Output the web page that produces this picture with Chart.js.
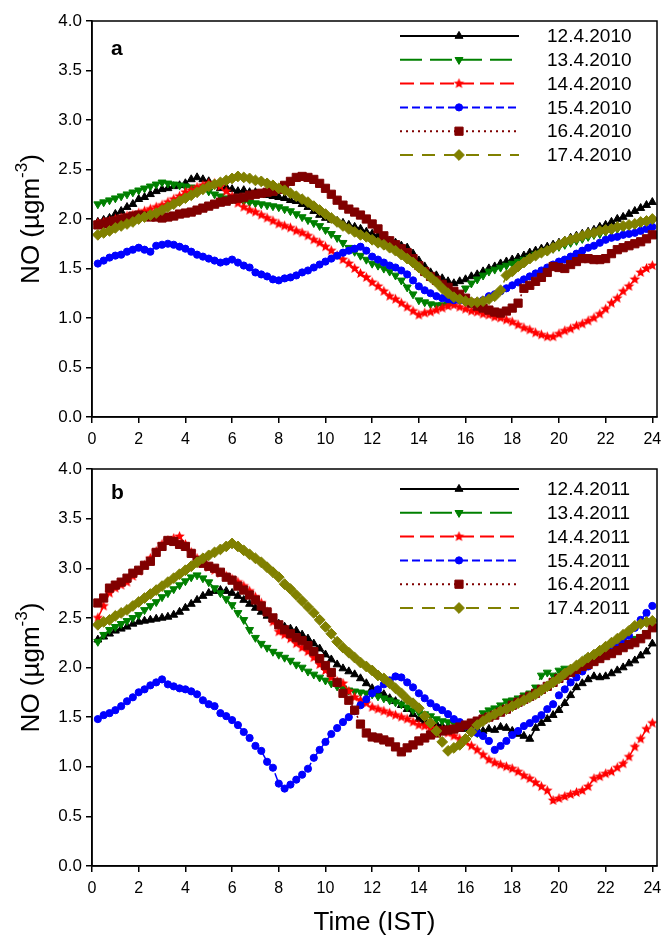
<!DOCTYPE html>
<html>
<head>
<meta charset="utf-8">
<script src="https://cdn.jsdelivr.net/npm/chart.js@4.4.1/dist/chart.umd.min.js"></script>
<style>
  body { margin: 0; background: #fff; width: 664px; height: 938px; position: relative; overflow: hidden; }
  canvas { position: absolute; left: 0; }
  #chartA { top: 0; }
  #chartB { top: 448px; }
</style>
</head>
<body>
<canvas id="chartA" width="664" height="460"></canvas>
<canvas id="chartB" width="664" height="490"></canvas>
<script>
// time of day (IST), 15 min steps
const hours = [
  0.25,0.5,0.75,1,1.25,1.5,1.75,2, 2.25,2.5,2.75,3,3.25,3.5,3.75,4,
  4.25,4.5,4.75,5,5.25,5.5,5.75,6, 6.25,6.5,6.75,7,7.25,7.5,7.75,8,
  8.25,8.5,8.75,9,9.25,9.5,9.75,10, 10.25,10.5,10.75,11,11.25,11.5,11.75,12,
  12.25,12.5,12.75,13,13.25,13.5,13.75,14, 14.25,14.5,14.75,15,15.25,15.5,15.75,16,
  16.25,16.5,16.75,17,17.25,17.5,17.75,18, 18.25,18.5,18.75,19,19.25,19.5,19.75,20,
  20.25,20.5,20.75,21,21.25,21.5,21.75,22, 22.25,22.5,22.75,23,23.25,23.5,23.75,24
];
const xTicks = [0, 2, 4, 6, 8, 10, 12, 14, 16, 18, 20, 22, 24];
const yTicks = [0, 0.5, 1, 1.5, 2, 2.5, 3, 3.5, 4];

const dates2010 = ['12.4.2010', '13.4.2010', '14.4.2010', '15.4.2010', '16.4.2010', '17.4.2010'];
const dates2011 = ['12.4.2011', '13.4.2011', '14.4.2011', '15.4.2011', '16.4.2011', '17.4.2011'];

// panel a - 2010
const apr12_2010 = [
  1.97,1.99,2.01,2.05,2.08,2.12,2.15,2.20, 2.22,2.25,2.28,2.30,2.31,2.33,2.34,2.36,
  2.40,2.42,2.40,2.38,2.34,2.31,2.32,2.30, 2.28,2.29,2.27,2.27,2.25,2.24,2.23,2.22,
  2.21,2.19,2.18,2.15,2.12,2.08,2.04,2.01, 1.99,1.98,1.96,1.94,1.92,1.90,1.87,1.85,
  1.83,1.80,1.78,1.76,1.73,1.71,1.65,1.58, 1.52,1.46,1.43,1.40,1.37,1.35,1.37,1.39,
  1.42,1.44,1.47,1.50,1.52,1.55,1.57,1.59, 1.61,1.63,1.66,1.68,1.70,1.72,1.74,1.76,
  1.78,1.81,1.83,1.85,1.87,1.89,1.92,1.94, 1.97,2.00,2.02,2.05,2.08,2.11,2.14,2.17
];
const apr13_2010 = [
  2.15,2.17,2.19,2.21,2.23,2.25,2.27,2.29, 2.31,2.33,2.35,2.37,2.36,2.35,2.34,2.33,
  2.32,2.31,2.30,2.28,2.25,2.23,2.21,2.20, 2.19,2.18,2.17,2.16,2.15,2.14,2.13,2.12,
  2.10,2.08,2.05,2.02,1.99,1.96,1.93,1.89, 1.85,1.81,1.76,1.71,1.67,1.63,1.59,1.55,
  1.53,1.50,1.47,1.43,1.38,1.31,1.24,1.18, 1.16,1.14,1.13,1.13,1.14,1.16,1.22,1.30,
  1.35,1.39,1.43,1.47,1.49,1.51,1.53,1.55, 1.57,1.59,1.61,1.64,1.66,1.68,1.70,1.72,
  1.74,1.76,1.78,1.80,1.82,1.84,1.85,1.87, 1.88,1.90,1.91,1.93,1.94,1.95,1.97,1.98
];
const apr14_2010 = [
  1.96,1.97,1.98,2.00,2.01,2.03,2.04,2.06, 2.08,2.10,2.12,2.14,2.17,2.20,2.23,2.27,
  2.29,2.32,2.34,2.36,2.36,2.33,2.28,2.23, 2.16,2.12,2.09,2.07,2.04,2.01,1.98,1.95,
  1.93,1.91,1.88,1.86,1.83,1.79,1.76,1.72, 1.68,1.63,1.59,1.55,1.50,1.45,1.41,1.36,
  1.32,1.27,1.22,1.19,1.15,1.11,1.07,1.03, 1.05,1.06,1.08,1.10,1.12,1.13,1.11,1.09,
  1.07,1.06,1.04,1.03,1.01,1.00,0.98,0.96, 0.93,0.90,0.88,0.85,0.83,0.81,0.81,0.84,
  0.87,0.89,0.92,0.94,0.97,1.00,1.04,1.09, 1.15,1.20,1.27,1.32,1.39,1.46,1.50,1.53
];
const apr15_2010 = [
  1.55,1.58,1.61,1.63,1.64,1.67,1.69,1.71, 1.69,1.67,1.73,1.74,1.75,1.74,1.72,1.70,
  1.67,1.64,1.62,1.60,1.58,1.56,1.57,1.59, 1.56,1.53,1.51,1.46,1.44,1.42,1.39,1.38,
  1.40,1.41,1.43,1.46,1.48,1.51,1.54,1.57, 1.60,1.63,1.66,1.68,1.70,1.72,1.68,1.62,
  1.59,1.56,1.53,1.51,1.48,1.44,1.38,1.32, 1.28,1.25,1.22,1.20,1.19,1.18,1.18,1.17,
  1.15,1.16,1.18,1.22,1.24,1.27,1.30,1.33, 1.36,1.39,1.42,1.45,1.48,1.51,1.54,1.57,
  1.59,1.62,1.65,1.68,1.71,1.73,1.76,1.79, 1.81,1.82,1.84,1.85,1.86,1.88,1.90,1.92
];
const apr16_2010 = [
  1.94,1.95,1.97,1.98,2.00,2.01,2.03,2.04, 2.03,2.02,2.02,2.01,2.02,2.03,2.05,2.06,
  2.07,2.09,2.11,2.13,2.15,2.17,2.18,2.20, 2.21,2.22,2.24,2.25,2.26,2.27,2.28,2.30,
  2.34,2.38,2.42,2.43,2.42,2.40,2.36,2.31, 2.25,2.19,2.14,2.10,2.07,2.04,2.00,1.95,
  1.90,1.83,1.78,1.74,1.70,1.66,1.60,1.53, 1.47,1.42,1.38,1.34,1.31,1.27,1.24,1.20,
  1.15,1.12,1.10,1.08,1.06,1.05,1.07,1.10, 1.15,1.30,1.33,1.37,1.41,1.46,1.52,1.51,
  1.50,1.54,1.57,1.60,1.60,1.59,1.59,1.60, 1.65,1.69,1.71,1.73,1.75,1.77,1.80,1.84
];
const apr17_2010 = [
  1.84,1.86,1.88,1.91,1.93,1.95,1.97,2.00, 2.02,2.04,2.06,2.09,2.12,2.15,2.18,2.21,
  2.24,2.27,2.30,2.33,2.35,2.37,2.39,2.41, 2.43,2.42,2.41,2.39,2.38,2.36,2.34,2.31,
  2.29,2.26,2.23,2.20,2.17,2.13,2.09,2.05, 2.01,1.97,1.93,1.90,1.87,1.84,1.82,1.79,
  1.76,1.74,1.71,1.68,1.64,1.60,1.56,1.51, 1.46,1.41,1.36,1.30,1.25,1.21,1.19,1.17,
  1.16,1.16,1.17,1.19,1.22,1.28,1.43,1.47, 1.52,1.56,1.60,1.63,1.66,1.68,1.71,1.74,
  1.77,1.79,1.81,1.83,1.85,1.86,1.88,1.89, 1.90,1.92,1.93,1.94,1.95,1.97,1.98,2.00
];

// panel b - 2011
const apr12_2011 = [
  2.28,2.31,2.34,2.37,2.39,2.41,2.44,2.46, 2.47,2.48,2.49,2.50,2.51,2.53,2.56,2.60,
  2.64,2.68,2.72,2.75,2.77,2.78,2.77,2.75, 2.72,2.68,2.64,2.60,2.56,2.52,2.48,2.44,
  2.41,2.39,2.37,2.33,2.29,2.24,2.19,2.13, 2.08,2.03,1.99,1.96,1.93,1.89,1.84,1.79,
  1.76,1.73,1.69,1.66,1.62,1.58,1.53,1.48, 1.45,1.44,1.43,1.41,1.40,1.39,1.38,1.38,
  1.37,1.37,1.36,1.38,1.37,1.40,1.39,1.36, 1.33,1.31,1.28,1.39,1.44,1.48,1.52,1.57,
  1.64,1.72,1.80,1.84,1.88,1.91,1.90,1.91, 1.94,1.97,2.00,2.04,2.07,2.12,2.16,2.24
];
const apr13_2011 = [
  2.26,2.33,2.38,2.41,2.44,2.47,2.50,2.53, 2.58,2.62,2.66,2.71,2.75,2.79,2.83,2.87,
  2.91,2.93,2.90,2.86,2.80,2.75,2.69,2.63, 2.55,2.48,2.38,2.30,2.24,2.20,2.16,2.13,
  2.10,2.07,2.03,2.00,1.96,1.93,1.90,1.87, 1.84,1.81,1.79,1.77,1.76,1.75,1.74,1.73,
  1.71,1.69,1.67,1.65,1.63,1.60,1.57,1.55, 1.53,1.51,1.48,1.46,1.45,1.44,1.43,1.41,
  1.36,1.34,1.54,1.57,1.59,1.62,1.66,1.67, 1.69,1.72,1.74,1.80,1.92,1.95,1.92,1.97,
  1.99,1.98,2.00,2.05,2.10,2.11,2.12,2.14, 2.17,2.19,2.22,2.25,2.29,2.31,2.35,2.41
];
const apr14_2011 = [
  2.50,2.62,2.75,2.80,2.83,2.86,2.92,2.97, 3.03,3.10,3.17,3.24,3.28,3.30,3.32,3.24,
  3.16,3.10,3.05,3.01,2.98,2.95,2.92,2.89, 2.86,2.82,2.77,2.71,2.65,2.56,2.46,2.36,
  2.33,2.29,2.24,2.20,2.16,2.10,2.03,1.97, 1.90,1.86,1.84,1.76,1.70,1.67,1.64,1.60,
  1.58,1.56,1.54,1.52,1.50,1.48,1.45,1.42, 1.41,1.39,1.38,1.37,1.34,1.31,1.28,1.25,
  1.21,1.17,1.12,1.07,1.04,1.02,1.00,0.98, 0.95,0.91,0.88,0.84,0.80,0.76,0.66,0.68,
  0.70,0.72,0.74,0.76,0.80,0.88,0.90,0.93, 0.95,0.99,1.03,1.10,1.20,1.28,1.38,1.44
];
const apr15_2011 = [
  1.48,1.52,1.54,1.57,1.61,1.66,1.70,1.75, 1.78,1.82,1.85,1.88,1.83,1.81,1.79,1.78,
  1.76,1.73,1.67,1.63,1.61,1.54,1.51,1.47, 1.42,1.35,1.29,1.21,1.16,1.05,0.99,0.83,
  0.78,0.82,0.87,0.92,0.98,1.09,1.17,1.25, 1.33,1.39,1.45,1.50,1.56,1.62,1.68,1.74,
  1.78,1.83,1.87,1.91,1.90,1.85,1.80,1.74, 1.69,1.64,1.60,1.57,1.53,1.48,1.45,1.41,
  1.38,1.34,1.31,1.26,1.17,1.21,1.26,1.32, 1.36,1.41,1.44,1.48,1.52,1.58,1.63,1.72,
  1.78,1.85,1.90,1.96,2.01,2.06,2.10,2.15, 2.19,2.23,2.27,2.32,2.40,2.48,2.55,2.62
];
const apr16_2011 = [
  2.65,2.70,2.80,2.83,2.86,2.90,2.95,2.98, 3.03,3.07,3.16,3.22,3.28,3.27,3.24,3.22,
  3.15,3.08,3.05,3.02,3.00,2.96,2.91,2.88, 2.82,2.78,2.73,2.68,2.62,2.56,2.50,2.43,
  2.38,2.34,2.30,2.27,2.22,2.16,2.09,2.02, 1.95,1.85,1.74,1.67,1.57,1.43,1.34,1.30,
  1.29,1.27,1.25,1.20,1.15,1.19,1.22,1.26, 1.29,1.32,1.34,1.36,1.37,1.38,1.40,1.42,
  1.44,1.46,1.48,1.50,1.52,1.55,1.58,1.62, 1.65,1.68,1.71,1.74,1.78,1.81,1.85,1.89,
  1.92,1.95,1.98,2.01,2.03,2.06,2.09,2.12, 2.14,2.17,2.20,2.23,2.25,2.29,2.33,2.40
];
const apr17_2011 = [
  2.43,2.46,2.48,2.52,2.55,2.58,2.62,2.66, 2.70,2.74,2.78,2.82,2.86,2.90,2.94,2.98,
  3.02,3.06,3.10,3.13,3.16,3.19,3.22,3.25, 3.22,3.18,3.14,3.10,3.06,3.01,2.96,2.91,
  2.84,2.79,2.73,2.67,2.61,2.55,2.48,2.41, 2.34,2.26,2.20,2.15,2.10,2.05,2.01,1.97,
  1.92,1.89,1.84,1.79,1.74,1.68,1.64,1.59, 1.51,1.44,1.36,1.25,1.16,1.19,1.22,1.28,
  1.35,1.42,1.46,1.50,1.53,1.56,1.58,1.61, 1.64,1.67,1.70,1.73,1.77,1.81,1.85,1.89,
  1.94,1.98,2.02,2.06,2.10,2.13,2.17,2.21, 2.25,2.29,2.33,2.37,2.42,2.44,2.46,2.47
];

const series2010 = [apr12_2010, apr13_2010, apr14_2010, apr15_2010, apr16_2010, apr17_2010];
const series2011 = [apr12_2011, apr13_2011, apr14_2011, apr15_2011, apr16_2011, apr17_2011];

const FONT = 'Arial, "Liberation Sans", sans-serif';

// filled 5 point star, used as point style for the 14.4 series
const makeStar = (color, r) => {
  const c = document.createElement('canvas');
  const s = Math.ceil(r * 2) + 2;
  c.width = s;
  c.height = s;
  const g = c.getContext('2d');
  g.fillStyle = color;
  g.beginPath();
  for (let i = 0; i < 10; i++) {
    const rad = i % 2 === 0 ? r : r * 0.45;
    const a = -Math.PI / 2 + i * Math.PI / 5;
    g.lineTo(s / 2 + rad * Math.cos(a), s / 2 + rad * Math.sin(a));
  }
  g.closePath();
  g.fill();
  return c;
};
const redStar = makeStar('#ff0000', 5.5);

const looks = [
  { color: '#000000', dash: [], point: 'triangle', rotation: 0, radius: 4.6, order: 6 },
  { color: '#008000', dash: [22, 8], point: 'triangle', rotation: 180, radius: 4.6, order: 5 },
  { color: '#ff0000', dash: [14, 6], point: redStar, rotation: 0, radius: 5, order: 4 },
  { color: '#0000ff', dash: [8, 4], point: 'circle', rotation: 0, radius: 3.6, order: 3 },
  { color: '#800000', dash: [2, 4], point: 'rect', rotation: 0, radius: 5.8, order: 2 },
  { color: '#808000', dash: [13, 9], point: 'rectRot', rotation: 0, radius: 5.4, order: 1 },
];

const drawMarker = (ctx, ds, x, y) => {
  const r = ds.pointRadius;
  const style = ds.pointStyle;
  if (typeof style !== 'string') {
    ctx.drawImage(style, x - style.width / 2, y - style.height / 2);
    return;
  }
  ctx.fillStyle = ds.borderColor;
  ctx.strokeStyle = ds.borderColor;
  ctx.lineWidth = 1;
  ctx.setLineDash([]);
  ctx.beginPath();
  if (style === 'circle') {
    ctx.arc(x, y, r, 0, Math.PI * 2);
  } else if (style === 'triangle') {
    let a = (ds.pointRotation || 0) * Math.PI / 180;
    for (let k = 0; k < 3; k++) {
      ctx.lineTo(x + Math.sin(a) * r, y - Math.cos(a) * r);
      a += 2 * Math.PI / 3;
    }
  } else if (style === 'rect') {
    const s = r * Math.SQRT1_2;
    ctx.rect(x - s, y - s, 2 * s, 2 * s);
  } else {
    ctx.moveTo(x - r, y);
    ctx.lineTo(x, y - r);
    ctx.lineTo(x + r, y);
    ctx.lineTo(x, y + r);
  }
  ctx.closePath();
  ctx.fill();
  ctx.stroke();
};

const decoPlugin = {
  id: 'panelDeco',
  afterDraw(chart, args, opts) {
    const { ctx, chartArea: area } = chart;
    ctx.save();
    // box round the plot
    ctx.strokeStyle = '#000';
    ctx.lineWidth = 1.5;
    ctx.setLineDash([]);
    ctx.strokeRect(area.left, area.top, area.right - area.left, area.bottom - area.top);

    // panel letter
    ctx.fillStyle = '#000';
    ctx.font = 'bold 21px ' + FONT;
    ctx.textAlign = 'left';
    ctx.textBaseline = 'middle';
    ctx.fillText(opts.letter, 111, opts.letterY);

    // y title with superscript
    const main = 'NO (\u00b5gm';
    const sup = '-3';
    ctx.save();
    ctx.translate(32, (area.top + area.bottom) / 2);
    ctx.rotate(-Math.PI / 2);
    ctx.font = '26px ' + FONT;
    const w1 = ctx.measureText(main).width;
    const w3 = ctx.measureText(')').width;
    ctx.font = '17px ' + FONT;
    const w2 = ctx.measureText(sup).width;
    const x0 = -(w1 + w2 + w3) / 2;
    ctx.textAlign = 'left';
    ctx.textBaseline = 'middle';
    ctx.font = '26px ' + FONT;
    ctx.fillText(main, x0, 0);
    ctx.font = '17px ' + FONT;
    ctx.fillText(sup, x0 + w1, -10);
    ctx.font = '26px ' + FONT;
    ctx.fillText(')', x0 + w1 + w2, 0);
    ctx.restore();

    // x title
    if (opts.xTitle) {
      ctx.font = '26px ' + FONT;
      ctx.textAlign = 'center';
      ctx.textBaseline = 'middle';
      ctx.fillText(opts.xTitle, (area.left + area.right) / 2, opts.xTitleY);
    }

    // legend
    chart.data.datasets.forEach((ds, i) => {
      const y = opts.legendTop + i * 23.8;
      ctx.strokeStyle = ds.borderColor;
      ctx.lineWidth = 2;
      ctx.setLineDash(ds.borderDash);
      ctx.beginPath();
      ctx.moveTo(400, y);
      ctx.lineTo(519, y);
      ctx.stroke();
      drawMarker(ctx, ds, 459, y);
      ctx.fillStyle = '#000';
      ctx.font = '19px ' + FONT;
      ctx.textAlign = 'left';
      ctx.textBaseline = 'middle';
      ctx.fillText(ds.label, 547, y + 1);
    });
    ctx.restore();
  }
};

const makeDatasets = (series, names) => series.map((values, i) => ({
  label: names[i],
  data: hours.map((h, k) => ({ x: h, y: values[k] })),
  borderColor: looks[i].color,
  backgroundColor: looks[i].color,
  borderWidth: 1.5,
  borderDash: looks[i].dash,
  pointStyle: looks[i].point,
  pointRotation: looks[i].rotation,
  pointRadius: looks[i].radius,
  pointBackgroundColor: looks[i].color,
  pointBorderColor: looks[i].color,
  pointBorderWidth: 1,
  order: looks[i].order,
  tension: 0,
  fill: false,
}));

const axisGrid = { display: true, drawOnChartArea: false, drawTicks: true, tickLength: 6, color: '#000', lineWidth: 1.5 };
const axisBorder = { display: true, color: '#000', width: 1.5 };

const makeOptions = (deco, xAxisHeight) => ({
  responsive: false,
  animation: false,
  devicePixelRatio: 1,
  layout: { padding: { left: 0, top: 21, right: 7, bottom: 0 } },
  plugins: { legend: { display: false }, tooltip: { enabled: false }, panelDeco: deco },
  scales: {
    x: {
      type: 'linear',
      min: 0,
      max: 24.2,
      afterBuildTicks: s => { s.ticks = xTicks.map(v => ({ value: v })); },
      afterFit: s => {
        s.height = xAxisHeight;
        s.paddingLeft = 0;
        s.paddingRight = 0;
      },
      ticks: { font: { size: 16, family: FONT }, color: '#000', padding: 7, maxRotation: 0 },
      grid: axisGrid,
      border: axisBorder,
    },
    y: {
      type: 'linear',
      min: 0,
      max: 4,
      afterBuildTicks: s => { s.ticks = yTicks.map(v => ({ value: v })); },
      afterFit: s => {
        s.width = 92;
        s.paddingTop = 0;
        s.paddingBottom = 0;
      },
      ticks: { font: { size: 17, family: FONT }, color: '#000', padding: 4, callback: v => v.toFixed(1) },
      grid: axisGrid,
      border: axisBorder,
    }
  }
});

new Chart(document.getElementById('chartA'), {
  type: 'line',
  data: { datasets: makeDatasets(series2010, dates2010) },
  options: makeOptions({ letter: 'a', letterY: 49, legendTop: 36 }, 43),
  plugins: [decoPlugin]
});

new Chart(document.getElementById('chartB'), {
  type: 'line',
  data: { datasets: makeDatasets(series2011, dates2011) },
  options: makeOptions({ letter: 'b', letterY: 45, legendTop: 41, xTitle: 'Time (IST)', xTitleY: 475 }, 72),
  plugins: [decoPlugin]
});
</script>
</body>
</html>
